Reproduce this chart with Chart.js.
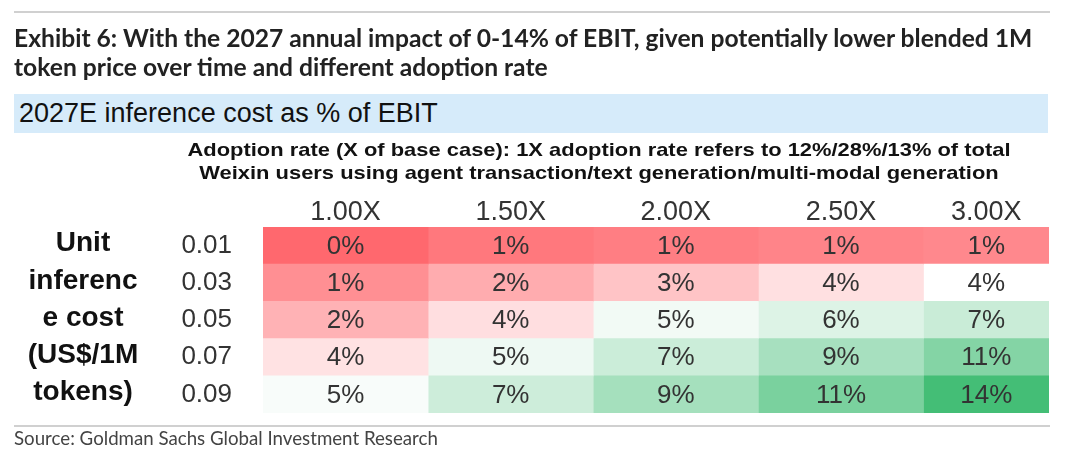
<!DOCTYPE html>
<html>
<head>
<meta charset="utf-8">
<script src="https://cdn.jsdelivr.net/npm/chart.js@4.4.1/dist/chart.umd.min.js"></script>
<style>
  html, body { margin: 0; padding: 0; background: #ffffff; }
  body { width: 1080px; height: 466px; position: relative; overflow: hidden; }
  #chart { position: absolute; left: 0; top: 0; }
  .rule { position: absolute; left: 14px; width: 1036px; height: 2px; background: #d0d0d0; }
  #title { position: absolute; left: 14px; top: 23px; font-family: Lato, "Noto Sans", sans-serif; font-weight: 700;
           font-size: 21px; line-height: 29px; color: #222; white-space: nowrap; }
  #title span { display: inline-block; }
  #banner { position: absolute; left: 14px; top: 94px; width: 1034px; height: 39px; background: #d6ebfa;
            font-family: "Liberation Sans", Arial, sans-serif; font-size: 27px; line-height: 39px; color: #111;
            white-space: nowrap; }
  #banner span { display: inline-block; margin-left: 5px; }
  #sub { position: absolute; left: 187px; width: 824px; top: 138px; text-align: center;
         font-family: "Liberation Sans", Arial, sans-serif; font-weight: 700; font-size: 19px; line-height: 23px;
         color: #111; white-space: nowrap; transform-origin: 50% 50%; }
  #sub span { display: inline-block; }
  #source { position: absolute; left: 14px; top: 427px; font-family: Lato, "Noto Sans", sans-serif; font-size: 17px;
            line-height: 22px; color: #444; white-space: nowrap; }
  #source span { display: inline-block; }
</style>
</head>
<body>
<canvas id="chart" width="1080" height="466"></canvas>
<div class="rule" style="top:11px"></div>
<div id="title"><span id="t1">Exhibit 6: With the 2027 annual impact of 0-14% of EBIT, given potentially lower blended 1M</span><br><span id="t2">token price over time and different adoption rate</span></div>
<div id="banner"><span>2027E inference cost as % of EBIT</span></div>
<div id="sub"><span id="s1">Adoption rate (X of base case): 1X adoption rate refers to 12%/28%/13% of total</span><br><span>Weixin users using agent transaction/text generation/multi-modal generation</span></div>
<div class="rule" style="top:425px"></div>
<div id="source"><span id="src">Source: Goldman Sachs Global Investment Research</span></div>
<script>
// ---------------- DATA ----------------
const ADOPTION = ['1.00X', '1.50X', '2.00X', '2.50X', '3.00X'];
const UNIT_COST = ['0.01', '0.03', '0.05', '0.07', '0.09'];
const COST_LABEL_LINES = ['Unit', 'inferenc', 'e cost', '(US$/1M', 'tokens)'];
// 2027E inference cost as % of EBIT (one array per unit cost row, columns = adoption rate)
const EBIT_0_01 = [0.30, 0.74, 0.91, 1.08, 1.19];
const EBIT_0_03 = [1.36, 2.17, 2.83, 3.60, 4.45];
const EBIT_0_05 = [2.33, 3.55, 5.10, 6.13, 7.16];
const EBIT_0_07 = [3.65, 5.30, 7.07, 8.84, 10.60];
const EBIT_0_09 = [4.82, 6.97, 8.94, 11.10, 13.80];

// ---------------- LAYOUT / STYLE ----------------
const ROWS = [EBIT_0_01, EBIT_0_03, EBIT_0_05, EBIT_0_07, EBIT_0_09];
const COL_EDGES = [0, 1, 2, 3, 4, 4.76];       // relative column widths (last column narrower)
const YAXIS_W = 90;
const RED = [255, 104, 110], WHITE = [255, 255, 255], GREEN = [68, 190, 118];

// fit header texts to their widths
function fit(el, target) {
  const w = el.getBoundingClientRect().width;
  const fs = parseFloat(getComputedStyle(el).fontSize);
  return fs * target / w;
}
document.getElementById('title').style.fontSize = fit(document.getElementById('t1'), 1019) + 'px';
document.getElementById('source').style.fontSize = fit(document.getElementById('src'), 424) + 'px';
const s1w = document.getElementById('s1').getBoundingClientRect().width;
document.getElementById('sub').style.transform = 'scaleX(' + (823 / s1w) + ')';

// 3-colour scale (min / 50th percentile / max)
const sorted = ROWS.flat().sort((a, b) => a - b);
const vMin = sorted[0], vMax = sorted[sorted.length - 1];
const vMid = sorted[Math.floor(sorted.length / 2)];
function mix(a, b, t) { return a.map((c, k) => Math.round(c + (b[k] - c) * t)); }
function colorFor(v) {
  const c = v <= vMid ? mix(RED, WHITE, (v - vMin) / (vMid - vMin))
                      : mix(WHITE, GREEN, (v - vMid) / (vMax - vMid));
  return 'rgb(' + c.join(',') + ')';
}

const datasets = ADOPTION.map((a, j) => ({
  label: a,
  data: UNIT_COST.map(() => [COL_EDGES[j], COL_EDGES[j + 1]]),
  backgroundColor: ROWS.map(r => colorFor(r[j])),
  borderWidth: 0,
  grouped: false,
  barPercentage: 1,
  categoryPercentage: 1
}));

const labelPlugin = {
  id: 'heatLabels',
  afterDatasetsDraw(chart) {
    const ctx = chart.ctx, xs = chart.scales.x, area = chart.chartArea;
    ctx.save();
    // cell values
    ctx.font = '26px "Liberation Sans", Arial, sans-serif';
    ctx.fillStyle = '#333';
    ctx.textAlign = 'center';
    ctx.textBaseline = 'middle';
    chart.data.datasets.forEach((ds, j) => {
      chart.getDatasetMeta(j).data.forEach((bar, i) => {
        ctx.fillText(Math.round(ROWS[i][j]) + '%', (bar.x + bar.base) / 2, bar.y + 1);
      });
    });
    // column headers
    ctx.font = '27px "Liberation Sans", Arial, sans-serif';
    ctx.textBaseline = 'alphabetic';
    ADOPTION.forEach((a, j) => {
      ctx.fillText(a, xs.getPixelForValue((COL_EDGES[j] + COL_EDGES[j + 1]) / 2), area.top - 7);
    });
    // row title (bold, wrapped as in the source table)
    const ys = chart.scales.y;
    ctx.font = 'bold 28px "Liberation Sans", Arial, sans-serif';
    ctx.fillStyle = '#111';
    ctx.textBaseline = 'middle';
    COST_LABEL_LINES.forEach((t, i) => {
      ctx.fillText(t, 83, ys.getPixelForValue(i) - 2);
    });
    ctx.restore();
  }
};

new Chart(document.getElementById('chart'), {
  type: 'bar',
  data: { labels: UNIT_COST, datasets },
  options: {
    indexAxis: 'y',
    responsive: false,
    animation: false,
    events: [],
    layout: { padding: { left: 263 - YAXIS_W, right: 31, top: 227, bottom: 53 } },
    plugins: { legend: { display: false }, tooltip: { enabled: false }, title: { display: false } },
    scales: {
      x: { type: 'linear', min: 0, max: COL_EDGES[COL_EDGES.length - 1], display: false },
      y: {
        type: 'category',
        offset: true,
        grid: { display: false, drawTicks: false },
        border: { display: false },
        ticks: { font: { family: '"Liberation Sans", Arial, sans-serif', size: 26 }, color: '#333', padding: 31 },
        afterFit(scale) { scale.width = YAXIS_W; }
      }
    }
  },
  plugins: [labelPlugin]
});
</script>
</body>
</html>
